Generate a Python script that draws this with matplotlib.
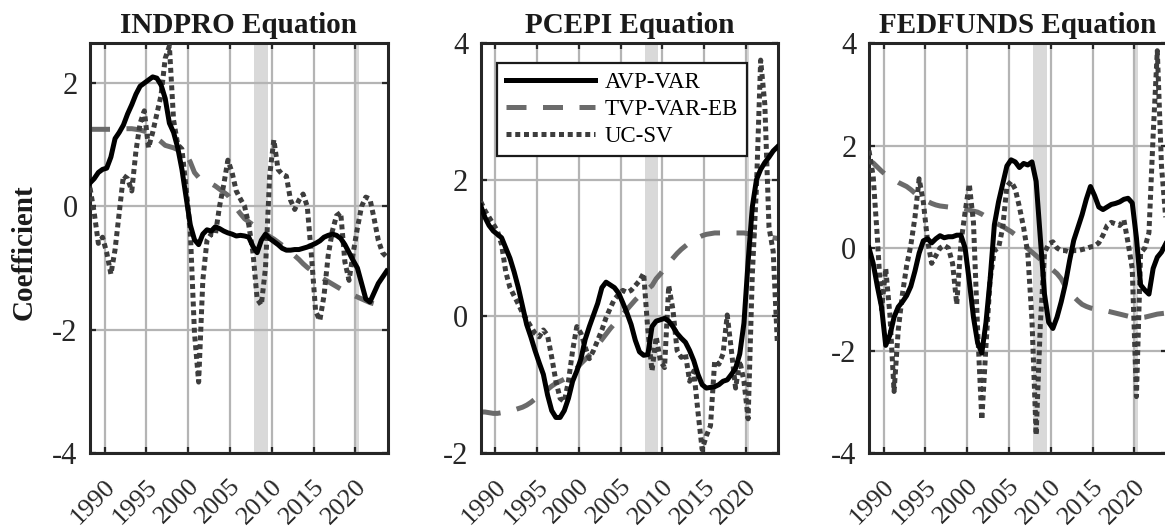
import numpy as np
import matplotlib
matplotlib.use("Agg")
import matplotlib.pyplot as plt
from matplotlib.transforms import ScaledTranslation

plt.rcParams['font.family'] = ['Liberation Serif', 'DejaVu Serif']
plt.rcParams['axes.unicode_minus'] = False

# Half-yearly sample dates
years = np.arange(1988.25, 2024.0, 0.5)

# NBER recessions shaded in every panel
recessions = [(2007.92, 2009.5), (2020.0, 2020.4)]

# ---- INDPRO equation ----
indpro_avp = [0.38, 0.45, 0.55, 0.60, 0.62, 0.80, 1.10, 1.20, 1.32, 1.50,
              1.65, 1.82, 1.95, 2.00, 2.05, 2.10, 2.08, 1.97, 1.75, 1.35,
              1.20, 0.95, 0.60, 0.15, -0.30, -0.54, -0.62, -0.45, -0.38, -0.40,
              -0.33, -0.36, -0.40, -0.43, -0.45, -0.48, -0.47, -0.48, -0.50, -0.65,
              -0.75, -0.55, -0.45, -0.52, -0.57, -0.62, -0.68, -0.71, -0.71, -0.70,
              -0.70, -0.68, -0.66, -0.63, -0.60, -0.56, -0.50, -0.47, -0.45, -0.47,
              -0.52, -0.62, -0.75, -0.88, -1.00, -1.25, -1.50, -1.55, -1.40, -1.25,
              -1.15, -1.05]
indpro_tvp = [1.25, 1.25, 1.25, 1.25, 1.25, 1.25, 1.25, 1.26, 1.26, 1.26,
              1.26, 1.25, 1.24, 1.22, 1.20, 1.15, 1.10, 1.05, 0.99, 0.97,
              0.95, 0.92, 0.90, 0.85, 0.72, 0.55, 0.47, 0.44, 0.41, 0.37,
              0.33, 0.28, 0.23, 0.18, 0.08, -0.03, -0.12, -0.20, -0.25, -0.30,
              -0.34, -0.39, -0.44, -0.49, -0.53, -0.58, -0.63, -0.69, -0.74, -0.80,
              -0.86, -0.93, -0.99, -1.04, -1.09, -1.14, -1.18, -1.22, -1.26, -1.30,
              -1.34, -1.38, -1.41, -1.44, -1.47, -1.50, -1.53, -1.56, -1.58, -1.59,
              -1.60, -1.60]
indpro_ucsv = [0.30, -0.10, -0.60, -0.50, -0.75, -1.10, -0.70, -0.10, 0.50, 0.45,
               0.25, 0.90, 1.35, 1.55, 0.95, 1.20, 1.50, 1.80, 2.40, 2.60,
               1.40, 1.00, 0.93, 0.30, -0.40, -2.05, -2.85, -1.20, -0.55, -0.45,
               -0.46, 0.00, 0.35, 0.75, 0.55, 0.25, 0.12, 0.00, -0.30, -0.75,
               -1.50, -1.60, -1.00, 0.50, 1.08, 0.60, 0.52, 0.49, 0.10, -0.05,
               0.10, 0.20, 0.00, -0.80, -1.70, -1.85, -1.45, -0.80, -0.40, -0.15,
               -0.10, -0.90, -1.20, -0.75, -0.35, 0.00, 0.15, 0.12, -0.20, -0.55,
               -0.75, -0.82]

# ---- PCEPI equation ----
pcepi_avp = [1.62, 1.45, 1.33, 1.25, 1.20, 1.15, 1.00, 0.85, 0.65, 0.42,
             0.15, -0.12, -0.30, -0.50, -0.68, -0.85, -1.15, -1.38, -1.48, -1.48,
             -1.38, -1.20, -0.95, -0.80, -0.62, -0.34, -0.15, 0.02, 0.19, 0.42,
             0.50, 0.46, 0.42, 0.34, 0.20, 0.05, -0.12, -0.35, -0.52, -0.57,
             -0.56, -0.15, -0.07, -0.05, -0.03, -0.07, -0.15, -0.25, -0.32, -0.38,
             -0.50, -0.65, -0.85, -1.00, -1.05, -1.04, -1.03, -1.00, -0.95, -0.93,
             -0.85, -0.76, -0.55, -0.10, 0.80, 1.60, 2.00, 2.15, 2.25, 2.33,
             2.42, 2.48]
pcepi_tvp = [-1.40, -1.40, -1.41, -1.42, -1.42, -1.41, -1.40, -1.39, -1.37, -1.35,
             -1.33, -1.30, -1.26, -1.21, -1.17, -1.12, -1.07, -1.02, -0.98, -0.95,
             -0.92, -0.88, -0.82, -0.76, -0.69, -0.63, -0.57, -0.50, -0.42, -0.34,
             -0.26, -0.18, -0.11, -0.04, 0.03, 0.10, 0.17, 0.24, 0.30, 0.35,
             0.40, 0.45, 0.55, 0.62, 0.70, 0.78, 0.85, 0.92, 0.98, 1.03,
             1.08, 1.12, 1.15, 1.18, 1.20, 1.21, 1.22, 1.22, 1.22, 1.22,
             1.22, 1.22, 1.22, 1.22, 1.21, 1.20, 1.19, 1.18, 1.17, 1.16,
             1.15, 1.14]
pcepi_ucsv = [1.68, 1.55, 1.45, 1.35, 1.25, 1.05, 0.65, 0.42, 0.30, 0.18,
              0.05, -0.05, -0.15, -0.25, -0.30, -0.20, -0.28, -0.60, -0.95, -1.20,
              -1.25, -0.95, -0.50, -0.15, -0.25, -0.45, -0.62, -0.50, -0.35, -0.20,
              -0.02, 0.12, 0.25, 0.32, 0.38, 0.35, 0.38, 0.45, 0.52, 0.63,
              -0.20, -0.80, -0.30, -0.65, -0.75, 0.45, 0.10, -0.50, -0.60, -0.55,
              -0.95, -0.80, -1.40, -1.95, -1.75, -1.60, -0.65, -0.70, -0.55, 0.02,
              -0.50, -1.05, -0.65, -0.95, -1.50, 0.60, 1.90, 3.75, 3.10, 1.30,
              0.95, -0.40]

# ---- FEDFUNDS equation ----
fedfunds_avp = [0.00, -0.30, -0.75, -1.15, -1.90, -1.70, -1.35, -1.15, -1.05, -0.93,
                -0.75, -0.45, -0.10, 0.14, 0.18, 0.10, 0.18, 0.24, 0.20, 0.22,
                0.22, 0.25, 0.25, 0.00, -0.65, -1.35, -1.85, -2.05, -1.45, -0.60,
                0.45, 0.90, 1.25, 1.60, 1.72, 1.68, 1.57, 1.65, 1.62, 1.68,
                1.30, 0.20, -0.90, -1.45, -1.57, -1.35, -1.05, -0.70, -0.25, 0.15,
                0.40, 0.65, 0.95, 1.20, 1.02, 0.80, 0.75, 0.80, 0.85, 0.87,
                0.90, 0.95, 0.97, 0.88, 0.20, -0.72, -0.82, -0.90, -0.40, -0.18,
                -0.08, 0.08]
fedfunds_tvp = [1.70, 1.66, 1.58, 1.50, 1.43, 1.38, 1.33, 1.28, 1.24, 1.20,
                1.14, 1.07, 1.02, 0.96, 0.91, 0.87, 0.84, 0.82, 0.81, 0.80,
                0.80, 0.79, 0.78, 0.76, 0.74, 0.72, 0.70, 0.66, 0.61, 0.56,
                0.50, 0.46, 0.42, 0.37, 0.32, 0.26, 0.15, 0.06, -0.01, -0.08,
                -0.15, -0.22, -0.29, -0.36, -0.43, -0.50, -0.60, -0.75, -0.86, -0.95,
                -1.03, -1.10, -1.14, -1.17, -1.19, -1.20, -1.21, -1.23, -1.25, -1.27,
                -1.29, -1.31, -1.33, -1.35, -1.36, -1.36, -1.35, -1.33, -1.31, -1.29,
                -1.28, -1.27]
fedfunds_ucsv = [1.90, 1.40, 0.20, -1.20, -0.40, -1.30, -2.80, -1.60, -0.90, -0.35,
                 0.05, 0.60, 1.35, 0.90, 0.15, -0.30, -0.15, 0.00, 0.05, 0.00,
                 -0.30, -1.10, 0.10, 0.70, 1.25, 0.50, -1.60, -3.35, -1.90, -0.60,
                 -0.05, 0.00, 0.40, 1.20, 1.30, 1.15, 0.80, 0.40, -0.10, -1.40,
                 -3.65, -1.50, -0.10, 0.08, 0.12, 0.00, -0.05, -0.05, -0.08, -0.05,
                 -0.05, -0.03, -0.01, 0.02, 0.04, 0.10, 0.25, 0.44, 0.50, 0.47,
                 0.44, 0.55, 0.10, -0.40, -2.90, -0.10, 0.00, 0.30, 2.20, 3.85,
                 1.60, 0.60]

titles = ["INDPRO Equation", "PCEPI Equation", "FEDFUNDS Equation"]
model_names = ["AVP-VAR", "TVP-VAR-EB", "UC-SV"]
panels = [
    (indpro_avp, indpro_tvp, indpro_ucsv),
    (pcepi_avp, pcepi_tvp, pcepi_ucsv),
    (fedfunds_avp, fedfunds_tvp, fedfunds_ucsv),
]
ylims = [(-4, 2.65), (-2, 4), (-4, 4)]
yticks = [[-4, -2, 0, 2], [-2, 0, 2, 4], [-4, -2, 0, 2, 4]]
xticks = [1990, 1995, 2000, 2005, 2010, 2015, 2020]

W, H = 1165, 531
fig = plt.figure(figsize=(W / 100, H / 100), dpi=100)

ax_bottom = 1 - 453 / H
ax_height = 410 / H
lefts = [90, 480.7, 869]
width = 297.5 / W

axis_col = '#262626'
for i, (ax_left, (avp, tvp, ucsv)) in enumerate(zip(lefts, panels)):
    ax = fig.add_axes([ax_left / W, ax_bottom, width, ax_height])
    ax.set_axisbelow(True)
    for r0, r1 in recessions:
        ax.axvspan(r0, r1, color='#d9d9d9', lw=0, zorder=0.2)

    l_tvp, = ax.plot(years, tvp, color='#6b6b6b', lw=3.6, zorder=2,
                     dashes=(4.0, 3.3), dash_capstyle='butt')
    l_uc, = ax.plot(years, ucsv, color='#3d3d3d', lw=3.6, zorder=3,
                    dashes=(1.0, 0.75), dash_capstyle='butt')
    l_avp, = ax.plot(years, avp, color='black', lw=3.6, zorder=4,
                     solid_joinstyle='round')

    ax.set_xlim(years[0], years[-1] + 0.1)
    ax.set_ylim(*ylims[i])
    ax.set_yticks(yticks[i])
    ax.set_xticks(xticks)
    ax.set_xticklabels([str(x) for x in xticks], rotation=45, ha='right', va='top')
    ax.grid(True, color='#b4b4b4', lw=1.6)
    ax.tick_params(direction='in', length=4, width=1.6, top=True, right=True,
                   colors=axis_col, labelcolor=axis_col)
    ax.tick_params(axis='y', labelsize=22, pad=9)
    ax.tick_params(axis='x', labelsize=19, pad=16)
    shift = ScaledTranslation(15 / 100, 0, fig.dpi_scale_trans)
    for lab in ax.get_xticklabels():
        lab.set_transform(lab.get_transform() + shift)
    for sp in ax.spines.values():
        sp.set_linewidth(2.2)
        sp.set_color(axis_col)
    ax.set_title(titles[i], fontsize=21, fontweight='bold', pad=7, color='#1a1a1a')

    if i == 0:
        ax.set_ylabel("Coefficient", fontsize=21, fontweight='bold', color='#1a1a1a')
        ax.yaxis.set_label_coords(-0.175, 0.49)
    if i == 1:
        leg = ax.legend([l_avp, l_tvp, l_uc], model_names, loc='upper left',
                        bbox_to_anchor=(0.054, 0.951), borderaxespad=0,
                        fontsize=16.5, frameon=True, fancybox=False,
                        handlelength=3.9, handletextpad=0.4, labelspacing=0.25,
                        borderpad=0.4)
        leg.get_frame().set_edgecolor('#1a1a1a')
        leg.get_frame().set_linewidth(1.6)
        leg.get_frame().set_alpha(1)

fig.savefig("out.png", dpi=100)
